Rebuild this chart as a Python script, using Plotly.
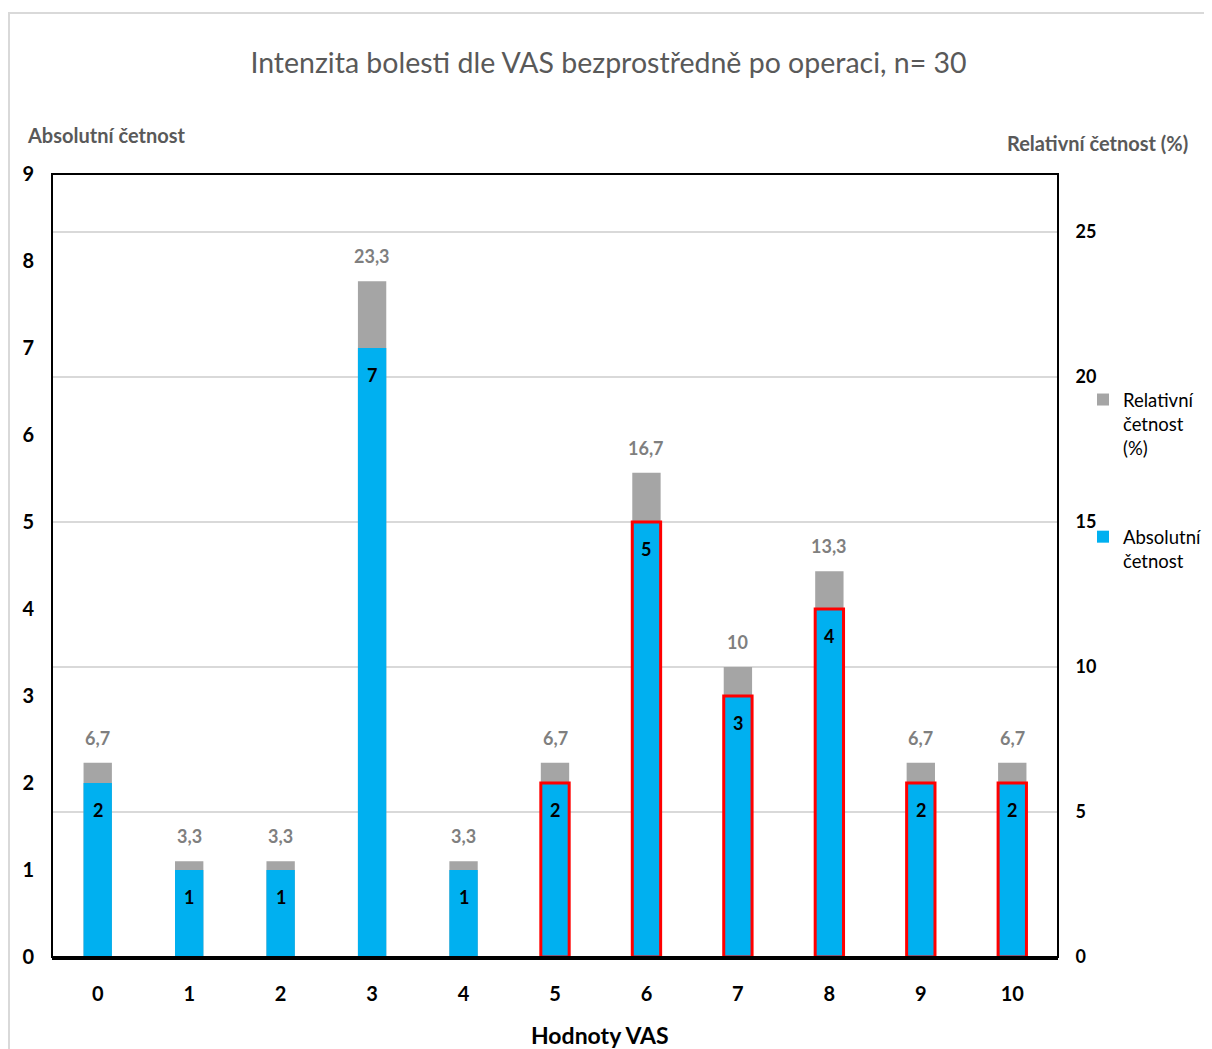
import plotly.graph_objects as go

categories = ["0", "1", "2", "3", "4", "5", "6", "7", "8", "9", "10"]
absolute = [2, 1, 1, 7, 1, 2, 5, 3, 4, 2, 2]
relative = [6.7, 3.3, 3.3, 23.3, 3.3, 6.7, 16.7, 10, 13.3, 6.7, 6.7]
outlined = [False, False, False, False, False, True, True, True, True, True, True]

FONT = "Lato, Liberation Sans, Arial, sans-serif"
BLUE = "#00B0F0"
GRAY = "#A5A5A5"

# figure-pixel geometry (page body adds an 8px offset)
L, T, W, H = 44, 166, 1006, 783

def px(x):
    return (x - L) / W

def py(y):
    return (T + H - y) / H

def fmt(v):
    return str(v).replace(".", ",")

fig = go.Figure()
fig.add_trace(go.Bar(
    x=categories, y=relative, name="Relativní<br>četnost<br>(%)",
    legendgroup="rel",
    marker=dict(color=GRAY, line=dict(width=0)),
    width=0.31, yaxis="y", hoverinfo="skip",
))
fig.add_trace(go.Bar(
    x=categories, y=absolute, name="Absolutní<br>četnost",
    legendgroup="abs",
    marker=dict(color=BLUE,
                line=dict(color=["red" if o else "rgba(0,0,0,0)" for o in outlined],
                          width=[3 if o else 0 for o in outlined])),
    width=0.31, yaxis="y2", hoverinfo="skip",
))

annotations = []
for c, v in zip(categories, relative):
    annotations.append(dict(x=c, y=v, xref="x", yref="y", text=f"<b>{fmt(v)}</b>",
                            showarrow=False, yanchor="bottom", yshift=12,
                            font=dict(family=FONT, size=18, color="#7F7F7F")))
for c, v in zip(categories, absolute):
    annotations.append(dict(x=c, y=v, xref="x", yref="y2", text=f"<b>{v}</b>",
                            showarrow=False, yanchor="top", yshift=-14,
                            font=dict(family=FONT, size=18, color="black")))
annotations += [
    dict(x=px(17), y=py(127), xref="paper", yref="paper", xanchor="left",
         yanchor="middle", text="<b>Absolutní četnost</b>", showarrow=False,
         font=dict(family=FONT, size=20, color="#595959")),
    dict(x=px(1182), y=py(135), xref="paper", yref="paper",
         xanchor="right", yanchor="middle", text="<b>Relativní četnost (%)</b>",
         showarrow=False, font=dict(family=FONT, size=20, color="#595959")),
    dict(x=px(592), y=py(1027), xref="paper", yref="paper",
         xanchor="center", yanchor="middle", text="<b>Hodnoty VAS</b>",
         showarrow=False, font=dict(family=FONT, size=23, color="black")),
]

fig.update_layout(
    width=1212, height=1049,
    margin=dict(l=L, r=1212 - L - W, t=T, b=1049 - T - H, autoexpand=False),
    paper_bgcolor="white", plot_bgcolor="white",
    barmode="overlay",
    title=dict(text="Intenzita bolesti dle VAS bezprostředně po operaci, n= 30",
               x=600.5 / 1212, xanchor="center", y=1 - 55 / 1049, yanchor="middle",
               font=dict(family=FONT, size=28.5, color="#595959")),
    xaxis=dict(range=[-0.5, 10.5], showline=True, linecolor="black", linewidth=3,
               ticks="outside", ticklen=17, tickcolor="rgba(0,0,0,0)",
               tickfont=dict(family=FONT, size=20, color="black", weight="bold"),
               showgrid=False, zeroline=False, automargin=False),
    yaxis=dict(side="right", range=[0, 27], dtick=5, showgrid=True, gridcolor="#D9D9D9",
               gridwidth=1.5, zeroline=False, ticks="outside", ticklen=13,
               tickcolor="rgba(0,0,0,0)", automargin=False,
               tickfont=dict(family=FONT, size=18, color="black", weight="bold")),
    yaxis2=dict(side="left", overlaying="y", range=[0, 9], dtick=1, showgrid=False,
                zeroline=False, ticks="outside", ticklen=13, tickcolor="rgba(0,0,0,0)",
                automargin=False,
                tickfont=dict(family=FONT, size=20, color="black", weight="bold")),
    legend=dict(xref="container", yref="container", x=1075 / 1212, y=1 - 373 / 1049,
                xanchor="left", yanchor="top", valign="top",
                font=dict(family=FONT, size=18.5, color="black"),
                tracegroupgap=62, itemwidth=30, bgcolor="rgba(0,0,0,0)"),
    annotations=annotations,
    shapes=[
        dict(type="rect", xref="paper", yref="paper", x0=0, x1=1, y0=0, y1=1,
             line=dict(color="black", width=2), layer="above"),
        dict(type="line", xref="paper", yref="paper", x0=px(0), x1=px(1212),
             y0=py(5), y1=py(5), line=dict(color="#D9D9D9", width=2)),
        dict(type="line", xref="paper", yref="paper", x0=px(1), x1=px(1),
             y0=py(5), y1=py(1049), line=dict(color="#D9D9D9", width=2)),
    ],
    showlegend=True,
)

fig.write_html("out.html")
